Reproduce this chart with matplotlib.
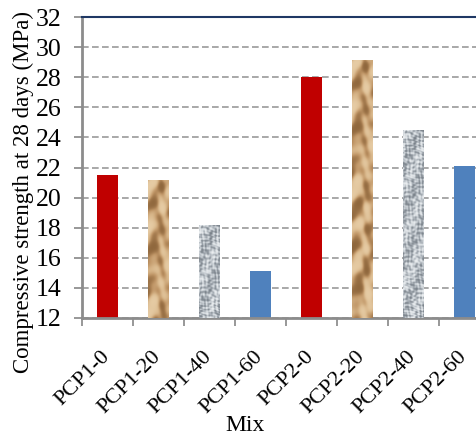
import numpy as np
import matplotlib
matplotlib.use("Agg")
import matplotlib.pyplot as plt
from matplotlib.colors import LinearSegmentedColormap

mixes = ['PCP1-0', 'PCP1-20', 'PCP1-40', 'PCP1-60',
         'PCP2-0', 'PCP2-20', 'PCP2-40', 'PCP2-60']
strength = [21.5, 21.2, 18.2, 15.1, 28.0, 29.15, 24.5, 22.1]
fills = ['red', 'paper', 'granite', 'blue', 'red', 'paper', 'granite', 'blue']
y_ticks = [12, 14, 16, 18, 20, 22, 24, 26, 28, 30, 32]

plt.rcParams['font.family'] = ['Liberation Serif', 'DejaVu Serif']

solid = {'red': '#C00000', 'blue': '#4F81BD'}
paper_cmap = LinearSegmentedColormap.from_list(
    'paper', ['#4a3018', '#8a6238', '#bf9566', '#d9b88c', '#ebd3ae'])
granite_cmap = LinearSegmentedColormap.from_list(
    'granite', ['#4a5157', '#7f878f', '#aab1b8', '#cdd3d8', '#eef1f3'])


def texture(kind, h, w=22):
    # deterministic pattern standing in for the picture fills (h, w in px)
    yy, xx = np.mgrid[0:h, 0:w].astype(float)
    if kind == 'paper':
        v = (np.sin(xx * 0.21 + yy * 0.12 + 2.2 * np.sin(yy * 0.037))
             + 0.9 * np.sin(yy * 0.16 - xx * 0.19 + 1.7 * np.sin(xx * 0.23))
             + 0.6 * np.sin(yy * 0.061 + xx * 0.33 + np.sin(yy * 0.09))
             + 0.35 * np.sin(yy * 0.43 + xx * 0.12))
        v = 0.6 + 0.34 * np.tanh(v / 1.4)
        return paper_cmap(np.clip(v, 0, 1))
    v = (np.sin(xx * 0.73 + yy * 0.41 + 1.3 * np.sin(yy * 0.29 + xx * 0.17))
         * np.sin(yy * 0.67 - xx * 0.37 + 1.1 * np.sin(xx * 0.53))
         + 0.7 * np.sin(xx * 1.13 - yy * 0.89 + 2 * np.sin(yy * 0.19))
         * np.sin(yy * 1.07 + xx * 0.61 + 1.5 * np.sin(xx * 0.31 - yy * 0.11))
         + 0.4 * np.sin(yy * 0.13 + xx * 0.27))
    v = 0.6 + 0.4 * np.tanh(v / 1.0)
    return granite_cmap(np.clip(v, 0, 1))


fig = plt.figure(figsize=(4.76, 4.38), dpi=100)
ax = fig.add_axes([0.1723, 0.274, 0.857, 0.687])

x = np.arange(len(mixes))
y0 = y_ticks[0]
heights = [s - y0 for s in strength]
colors = [solid.get(f, 'none') for f in fills]
bars = ax.bar(x, heights, bottom=y0, width=0.41, color=colors,
              linewidth=0, zorder=2)

for bar, f in zip(bars, fills):
    if f in ('paper', 'granite'):
        x0 = bar.get_x()
        tex = texture(f, int(round(bar.get_height() * 15)))
        img = ax.imshow(tex, extent=(x0, x0 + bar.get_width(),
                                     y0, y0 + bar.get_height()),
                        aspect='auto', zorder=3, interpolation='bilinear')
        img.set_clip_path(bar)

ax.set_xlim(-0.5, len(mixes) - 0.5)
ax.set_ylim(y_ticks[0], y_ticks[-1])
ax.set_yticks(y_ticks)
ax.set_axisbelow(True)
ax.yaxis.grid(True, linestyle=(0, (4, 2)), color='#999999', linewidth=1.2)

ax.set_xticks(x)
ax.set_xticklabels(mixes, rotation=45, ha='right', va='center',
                   rotation_mode='anchor', fontsize=16)
ax.set_xticks(np.arange(len(mixes) + 1) - 0.5, minor=True)
ax.tick_params(axis='x', which='major', length=0, pad=26)
ax.tick_params(axis='x', which='minor', length=6, width=1.3,
               color='#909090', direction='out')
ax.tick_params(axis='y', length=6, width=1.3, color='#909090',
               labelsize=18.5, pad=9)

for side in ('left', 'bottom'):
    ax.spines[side].set_color('#8c8c8c')
    ax.spines[side].set_linewidth(2)
ax.spines['top'].set_color('#1f3864')
ax.spines['top'].set_linewidth(1.5)
ax.spines['right'].set_visible(False)

ax.set_ylabel('Compressive strength at 28 days (MPa)', fontsize=16.5)
ax.yaxis.set_label_coords(-0.118, 0.42)
ax.set_xlabel('Mix', fontsize=17)
ax.xaxis.set_label_coords(0.40, -0.322)

fig.savefig('out.png', dpi=100)
